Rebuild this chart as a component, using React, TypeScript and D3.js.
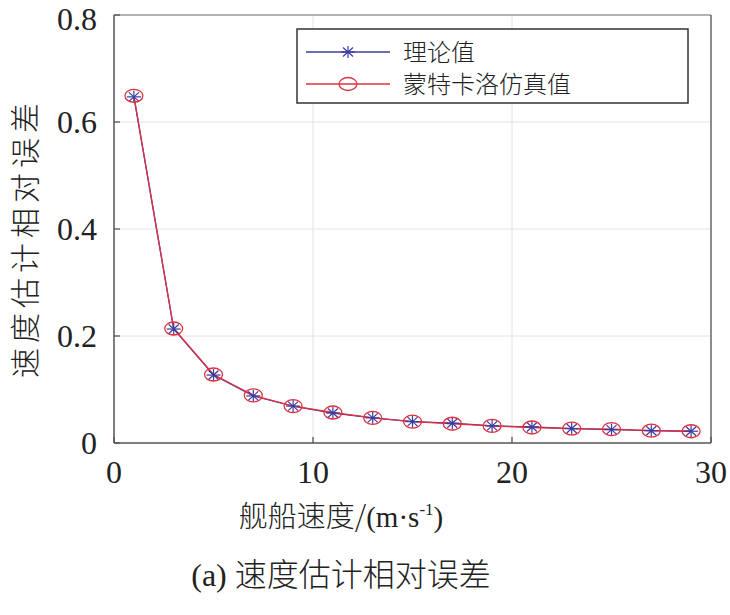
import React from "react";
import * as d3 from "d3";

// ship speed (m/s) and relative error of the speed estimate
const speeds = [1, 3, 5, 7, 9, 11, 13, 15, 17, 19, 21, 23, 25, 27, 29];
const theory = [0.647, 0.213, 0.127, 0.088, 0.069, 0.056, 0.047, 0.040, 0.037, 0.032, 0.030, 0.027, 0.025, 0.023, 0.022];
const monteCarlo = [0.649, 0.214, 0.128, 0.089, 0.069, 0.057, 0.047, 0.040, 0.036, 0.032, 0.029, 0.027, 0.026, 0.023, 0.022];
const xTicks = [0, 10, 20, 30];
const yTicks = [0, 0.2, 0.4, 0.6, 0.8];
const seriesNames = ["理论值", "蒙特卡洛仿真值"];

const W = 730;
const H = 615;
const margin = { top: 15, right: 19, bottom: 172, left: 114 };
const serif = "Liberation Serif, Times New Roman, DejaVu Serif, serif";
const cjk = "Noto Sans CJK SC, sans-serif";
const blue = "#3a3a9e";
const red = "#e0303f";

const Star = ({ x, y }: { x: number; y: number }) => (
  <g stroke={blue} strokeWidth={1.2}>
    <line x1={x - 7} y1={y} x2={x + 7} y2={y} />
    <line x1={x} y1={y - 6} x2={x} y2={y + 6} />
    <line x1={x - 5} y1={y - 4.5} x2={x + 5} y2={y + 4.5} />
    <line x1={x - 5} y1={y + 4.5} x2={x + 5} y2={y - 4.5} />
  </g>
);

const Ring = ({ x, y }: { x: number; y: number }) => (
  <ellipse cx={x} cy={y} rx={9} ry={6.5} fill="none" stroke={red} strokeWidth={1.3} />
);

export default function App() {
  const x = d3.scaleLinear().domain([0, 30]).range([margin.left, W - margin.right]);
  const y = d3.scaleLinear().domain([0, 0.8]).range([H - margin.bottom, margin.top]);
  const line = d3
    .line<number>()
    .x((_, i) => x(speeds[i]))
    .y((d) => y(d));

  const [x0, x1] = x.range();
  const [y0, y1] = y.range();

  return (
    <svg width={W} height={H} style={{ position: "absolute", left: 0, top: 0, background: "#fff" }}>
      {/* grid */}
      {xTicks.slice(1, -1).map((t) => (
        <line key={"gx" + t} x1={x(t)} x2={x(t)} y1={y0} y2={y1} stroke="#e2e2e2" strokeWidth={1} />
      ))}
      {yTicks.slice(1, -1).map((t) => (
        <line key={"gy" + t} x1={x0} x2={x1} y1={y(t)} y2={y(t)} stroke="#e2e2e2" strokeWidth={1} />
      ))}

      {/* box + ticks */}
      <line x1={x0} x2={x1} y1={y1} y2={y1} stroke="#999" strokeWidth={1.3} />
      <line x1={x1} x2={x1} y1={y1} y2={y0} stroke="#666" strokeWidth={1.5} />
      <line x1={x0} x2={x0} y1={y1} y2={y0} stroke="#555" strokeWidth={1.5} />
      <line x1={x0} x2={x1} y1={y0} y2={y0} stroke="#555" strokeWidth={1.5} />
      {xTicks.map((t) => (
        <line key={"tx" + t} x1={x(t)} x2={x(t)} y1={y0} y2={y0 - 6} stroke="#555" strokeWidth={1.3} />
      ))}
      {yTicks.map((t) => (
        <line key={"ty" + t} x1={x0} x2={x0 + 6} y1={y(t)} y2={y(t)} stroke="#555" strokeWidth={1.3} />
      ))}

      {/* tick labels */}
      {xTicks.map((t) => (
        <text key={"lx" + t} x={x(t)} y={y0 + 40} textAnchor="middle" style={{ fontFamily: serif }} fontSize={32} fill="#222">
          {t}
        </text>
      ))}
      {yTicks.map((t) => (
        <text
          key={"ly" + t}
          x={x0 - 17}
          y={y(t) + (t === 0.8 ? 15 : 11)}
          textAnchor="end"
          style={{ fontFamily: serif }}
          fontSize={32}
          fill="#222"
        >
          {t === 0 ? "0" : t.toFixed(1)}
        </text>
      ))}

      {/* series */}
      <path d={line(theory) ?? ""} fill="none" stroke={blue} strokeWidth={1.3} />
      <path d={line(monteCarlo) ?? ""} fill="none" stroke={red} strokeWidth={1.3} />
      {theory.map((v, i) => (
        <Star key={"s" + i} x={x(speeds[i])} y={y(v)} />
      ))}
      {monteCarlo.map((v, i) => (
        <Ring key={"r" + i} x={x(speeds[i])} y={y(v)} />
      ))}

      {/* legend */}
      <rect x={297} y={29} width={391} height={74} fill="#fff" stroke="#333" strokeWidth={1.5} />
      <line x1={306} x2={390} y1={52} y2={52} stroke={blue} strokeWidth={1.3} />
      <Star x={348} y={52} />
      <text x={403} y={61} style={{ fontFamily: cjk }} fontSize={24} fontWeight={300} fill="#222">
        {seriesNames[0]}
      </text>
      <line x1={306} x2={390} y1={84} y2={84} stroke={red} strokeWidth={1.3} />
      <Ring x={348} y={84} />
      <text x={403} y={93} style={{ fontFamily: cjk }} fontSize={24} fontWeight={300} fill="#222">
        {seriesNames[1]}
      </text>

      {/* axis titles */}
      <text
        transform={`translate(36, 238) rotate(-90)`}
        textAnchor="middle"
        style={{ fontFamily: cjk }}
        fontSize={30}
        fontWeight={300}
        letterSpacing={5}
        fill="#222"
      >
        速度估计相对误差
      </text>
      <text x={341} y={527} textAnchor="middle" fontSize={29} fill="#222">
        <tspan style={{ fontFamily: cjk }} fontWeight={300}>舰船速度/</tspan>
        <tspan style={{ fontFamily: serif }}>(m·s</tspan>
        <tspan style={{ fontFamily: serif }} fontSize={17} dy={-12}>-1</tspan>
        <tspan style={{ fontFamily: serif }} dy={12}>)</tspan>
      </text>
      <text x={341} y={586} textAnchor="middle" fontSize={32} fill="#222">
        <tspan style={{ fontFamily: serif }}>(a) </tspan>
        <tspan style={{ fontFamily: cjk }} fontWeight={300}>速度估计相对误差</tspan>
      </text>
    </svg>
  );
}
